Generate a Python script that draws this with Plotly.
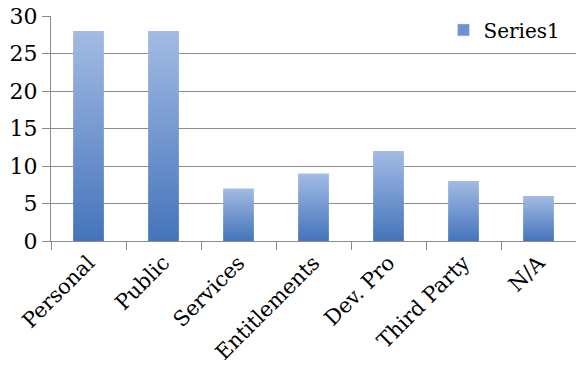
import plotly.graph_objects as go

categories = ["Personal", "Public", "Services", "Entitlements", "Dev. Pro", "Third Party", "N/A"]
values = [28, 28, 7, 9, 12, 8, 6]
y_ticks = [0, 5, 10, 15, 20, 25, 30]
series_name = "Series1"

BAR_HALF = 0.205
TOP_COLOR = "#A3BBE4"
BOTTOM_COLOR = "#4474BB"
FONT = "DejaVu Serif"

fig = go.Figure()

# each bar is a filled polygon so it can carry a vertical gradient
for i, v in enumerate(values):
    xs = [i - BAR_HALF, i + BAR_HALF, i + BAR_HALF, i - BAR_HALF, i - BAR_HALF]
    ys = [0, 0, v, v, 0]
    fig.add_trace(go.Scatter(
        x=xs, y=ys, mode="lines", fill="toself",
        line=dict(width=0),
        fillgradient=dict(type="vertical", start=0, stop=v,
                          colorscale=[[0, BOTTOM_COLOR], [1, TOP_COLOR]]),
        showlegend=False, hoverinfo="skip",
    ))

# legend entry
fig.add_trace(go.Bar(x=[None], y=[None], name=series_name,
                     marker=dict(color="#6D92CF"), showlegend=True))

fig.update_layout(
    width=576, height=369,
    margin=dict(l=51, r=0, t=16, b=128),
    paper_bgcolor="white", plot_bgcolor="white",
    font=dict(family=FONT, size=21, color="black"),
    showlegend=True,
    legend=dict(x=0.98, y=1.025, xanchor="right", yanchor="top",
                font=dict(size=20), bgcolor="rgba(0,0,0,0)",
                itemwidth=30, tracegroupgap=0),
    xaxis=dict(
        range=[-0.5, len(categories) - 0.5],
        tickmode="array", tickvals=list(range(len(categories))), ticktext=categories,
        tickangle=-45, ticks="", showgrid=False, zeroline=False,
        showline=True, linecolor="#8C8C8C", linewidth=1.3,
        tickfont=dict(size=21),
        minor=dict(tick0=0.5, dtick=1, ticks="outside", ticklen=8,
                   tickcolor="#8C8C8C", tickwidth=1.3, showgrid=False),
        fixedrange=True,
    ),
    yaxis=dict(
        range=[0, 30], tickmode="array", tickvals=y_ticks,
        ticks="outside", ticklen=8, tickcolor="#8C8C8C", tickwidth=1.3,
        showgrid=True, gridcolor="#8C8C8C", gridwidth=1.3,
        zeroline=False, showline=True, linecolor="#8C8C8C", linewidth=1.3,
        tickfont=dict(size=22),
        fixedrange=True,
    ),
)

fig.write_html("out.html")
